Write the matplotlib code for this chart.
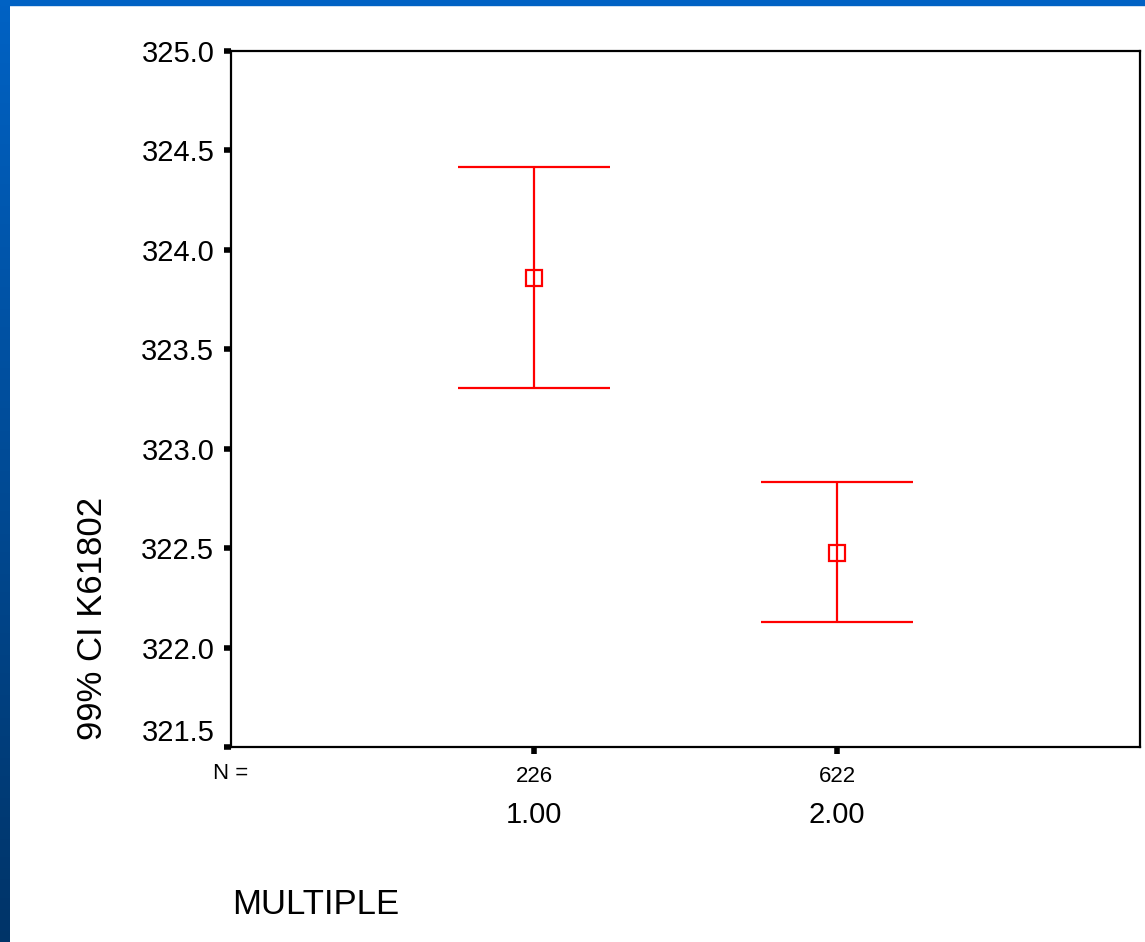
import matplotlib

matplotlib.use("Agg")
import matplotlib.pyplot as plt
import numpy as np
from matplotlib.transforms import blended_transform_factory

plt.rcParams["font.family"] = ["Liberation Sans", "DejaVu Sans"]

# group values
groups = [1.0, 2.0]
group_labels = ["1.00", "2.00"]
counts = ["226", "622"]
means = [323.86, 322.476]
ci_low = [323.306, 322.129]
ci_high = [324.417, 322.833]
yticks = [321.5, 322.0, 322.5, 323.0, 323.5, 324.0, 324.5, 325.0]

fig = plt.figure(figsize=(11.45, 9.42), dpi=100)

# slide-style blue strips on the top and left edges
bg = fig.add_axes([0, 0, 1, 1], zorder=-10)
bg.set_axis_off()
grad = np.linspace(0, 1, 256).reshape(-1, 1)
cmap = matplotlib.colors.LinearSegmentedColormap.from_list(
    "slide", ["#0062c4", "#003468"]
)
bg.imshow(grad, cmap=cmap, aspect="auto", extent=[0, 10 / 1145, 0, 1])
bg.add_patch(plt.Rectangle((0, 1 - 5 / 942), 1, 5 / 942, color="#0062c4"))
bg.add_patch(
    plt.Rectangle((10 / 1145, 0), 1, 1 - 5 / 942, color="white", zorder=-1)
)
bg.set_xlim(0, 1)
bg.set_ylim(0, 1)

ax = fig.add_axes([0.2017, 0.2070, 0.7939, 0.7389])

lo_err = np.array(means) - np.array(ci_low)
hi_err = np.array(ci_high) - np.array(means)
ax.errorbar(
    groups,
    means,
    yerr=[lo_err, hi_err],
    fmt="s",
    color="#ff0000",
    ecolor="#ff0000",
    elinewidth=1.6,
    capsize=55,
    capthick=1.6,
    markersize=11,
    markerfacecolor="none",
    markeredgewidth=1.6,
)

ax.set_xlim(0, 3)
ax.set_ylim(321.5, 325.0)
ax.set_yticks(yticks)
ax.set_yticklabels([f"{v:.1f}" for v in yticks], fontsize=21)
ax.set_xticks(groups)
ax.set_xticklabels(counts, fontsize=16)
# bottom label sits just above its tick, as in the original
ax.get_yticklabels()[0].set_verticalalignment("bottom")

for s in ax.spines.values():
    s.set_linewidth(1.6)
ax.tick_params(axis="y", length=5, width=4, pad=7)
ax.tick_params(axis="x", length=5, width=4, pad=9)

trans = blended_transform_factory(ax.transData, ax.transAxes)
for g, lab in zip(groups, group_labels):
    ax.text(g, -0.098, lab, transform=trans, ha="center", va="center", fontsize=21)
ax.text(0, -0.038, "N =", transform=trans, ha="center", va="center", fontsize=16)

fig.text(232 / 1145, 1 - 905 / 942, "MULTIPLE", ha="left", va="center", fontsize=25)
fig.text(
    92 / 1145,
    1 - 618 / 942,
    "99% CI K61802",
    rotation=90,
    ha="center",
    va="center",
    fontsize=25,
)

fig.savefig("out.png", dpi=100)
